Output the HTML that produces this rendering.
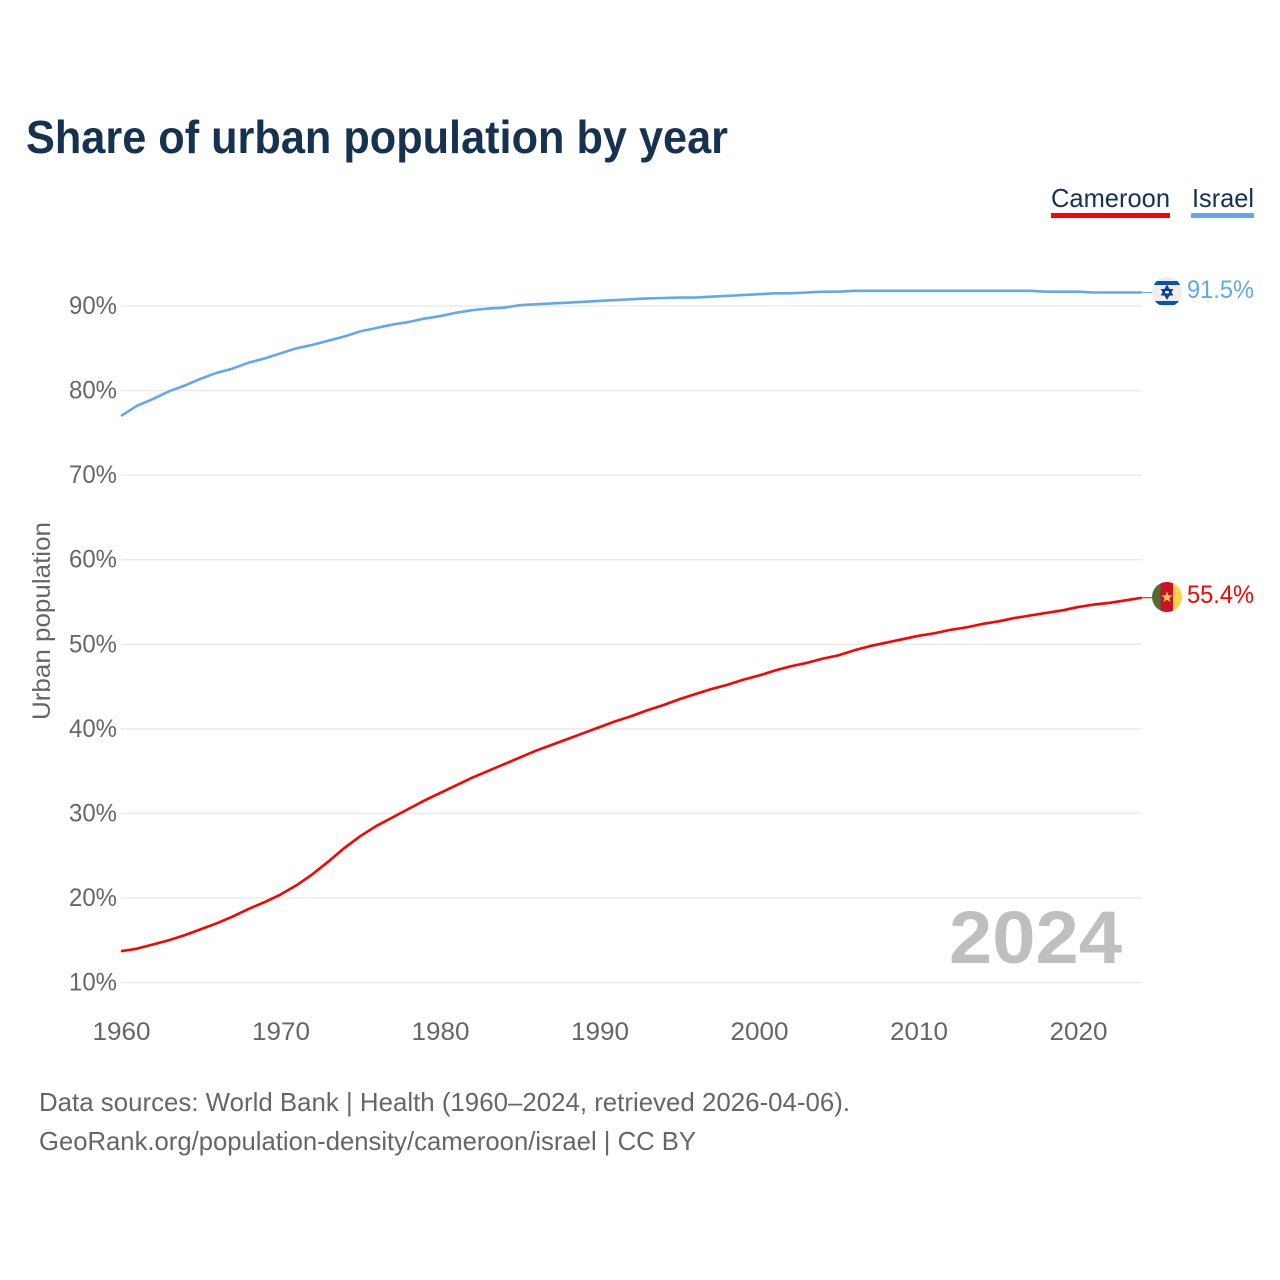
<!DOCTYPE html>
<html lang="en">
<head>
<meta charset="utf-8">
<title>Share of urban population by year</title>
<style>
html,body{margin:0;padding:0;background:#fff;width:1280px;height:1280px;overflow:hidden}
svg{display:block}
text{font-family:"Liberation Sans",sans-serif}
</style>
</head>
<body>
<svg id="chart" width="1280" height="1280" viewBox="0 0 1280 1280">
  <text x="26" y="153" font-size="46" font-weight="700" fill="#17324f" textLength="702" lengthAdjust="spacingAndGlyphs">Share of urban population by year</text>

  <g>
    <text x="1051" y="207" font-size="26" fill="#17324f" textLength="119" lengthAdjust="spacingAndGlyphs">Cameroon</text>
    <rect x="1051" y="213" width="119" height="5" fill="#ff0000"/>
  </g>
  <g>
    <text x="1192" y="207" font-size="26" fill="#17324f" textLength="62" lengthAdjust="spacingAndGlyphs">Israel</text>
    <rect x="1191" y="213" width="63" height="5" fill="#61a8ee"/>
  </g>

  <g id="grid"></g>
  <g id="yticks"></g>
  <g id="xticks"></g>

  <text transform="translate(50,621) rotate(-90)" text-anchor="middle" font-size="25" fill="#666666" textLength="198" lengthAdjust="spacingAndGlyphs">Urban population</text>

  <text x="1122" y="963" text-anchor="end" font-size="74" font-weight="700" fill="#bfbfbf" textLength="173" lengthAdjust="spacingAndGlyphs">2024</text>

  <g id="series"></g>

  <g>
    <clipPath id="clip-il"><circle cx="1167" cy="292" r="15"/></clipPath>
    <g clip-path="url(#clip-il)">
      <rect x="1152" y="277" width="30" height="30" fill="#eeeeee"/>
      <rect x="1153" y="281" width="28" height="4" fill="#0a50b4"/>
      <rect x="1153" y="301" width="28" height="4" fill="#0a50b4"/>
      <path d="M1167 286.500l4.600 8h-9.200zM1167 298l-4.600-8h9.200z" fill="none" stroke="#0a3f96" stroke-width="2"/>
    </g>
  </g>
  <g>
    <clipPath id="clip-cm"><circle cx="1167" cy="597" r="15"/></clipPath>
    <g clip-path="url(#clip-cm)">
      <rect x="1152" y="582" width="9" height="30" fill="#4f6f2f"/>
      <rect x="1160.500" y="582" width="13" height="30" fill="#ce1126"/>
      <rect x="1173" y="582" width="9" height="30" fill="#ffd147"/>
      <path d="M1167 591.500l1.500 4h4.200l-3.400 2.500 1.300 4.100-3.600-2.500-3.600 2.500 1.300-4.100-3.400-2.500h4.200z" fill="#ffd147"/>
    </g>
  </g>

  <text x="1187" y="298" font-size="25" fill="#61a8ee" textLength="67" lengthAdjust="spacingAndGlyphs">91.5%</text>
  <text x="1187" y="603" font-size="25" fill="#ff0000" textLength="67" lengthAdjust="spacingAndGlyphs">55.4%</text>

  <text x="39" y="1111" font-size="26" fill="#666666" textLength="811" lengthAdjust="spacingAndGlyphs">Data sources: World Bank | Health (1960–2024, retrieved 2026-04-06).</text>
  <text x="39" y="1150" font-size="26" fill="#666666" textLength="657" lengthAdjust="spacingAndGlyphs">GeoRank.org/population-density/cameroon/israel | CC BY</text>
</svg>
<script>
const startYear = 1960;
const yTickValues = [10, 20, 30, 40, 50, 60, 70, 80, 90];
const xTickValues = [1960, 1970, 1980, 1990, 2000, 2010, 2020];
const israelValues = [77.0,78.2,79.0,79.9,80.6,81.4,82.1,82.6,83.3,83.8,84.4,85.0,85.4,85.9,86.4,87.0,87.4,87.8,88.1,88.5,88.8,89.2,89.5,89.7,89.8,90.1,90.2,90.3,90.4,90.5,90.6,90.7,90.8,90.9,90.95,91.0,91.0,91.1,91.2,91.3,91.4,91.5,91.5,91.6,91.7,91.7,91.8,91.8,91.8,91.8,91.8,91.8,91.8,91.8,91.8,91.8,91.8,91.8,91.7,91.7,91.7,91.6,91.6,91.6,91.6];
const cameroonValues = [13.7,14.0,14.5,15.0,15.6,16.3,17.0,17.8,18.7,19.5,20.4,21.5,22.8,24.3,25.9,27.3,28.5,29.5,30.5,31.5,32.4,33.3,34.2,35.0,35.8,36.6,37.4,38.1,38.8,39.5,40.2,40.9,41.5,42.2,42.8,43.5,44.1,44.7,45.2,45.8,46.3,46.9,47.4,47.8,48.3,48.7,49.3,49.8,50.2,50.6,51.0,51.3,51.7,52.0,52.4,52.7,53.1,53.4,53.7,54.0,54.4,54.7,54.9,55.2,55.5];

const NS = 'http://www.w3.org/2000/svg';
function xScale(year) { return 121 + (year - 1960) * 15.95; }
function yScale(pct) { return 982.5 - (pct - 10) * 8.456; }

const gridGroup = document.getElementById('grid');
const yTickGroup = document.getElementById('yticks');
const xTickGroup = document.getElementById('xticks');
const seriesGroup = document.getElementById('series');

yTickValues.forEach(function (v) {
  const line = document.createElementNS(NS, 'line');
  
  
  line.setAttribute('x1', 121);
  line.setAttribute('x2', 1142);
  line.setAttribute('y1', yScale(v));
  line.setAttribute('y2', yScale(v));
  line.setAttribute('stroke', '#ebebeb');
  line.setAttribute('stroke-width', '1.5');
  gridGroup.appendChild(line);

  const label = document.createElementNS(NS, 'text');
  
  
  label.setAttribute('x', 69);
  label.setAttribute('y', yScale(v) + 8);
  label.setAttribute('font-size', '25');
  label.setAttribute('fill', '#666666');
  label.setAttribute('textLength', '48');
  label.setAttribute('lengthAdjust', 'spacingAndGlyphs');
  label.textContent = v + '%';
  yTickGroup.appendChild(label);
});

xTickValues.forEach(function (v) {
  const label = document.createElementNS(NS, 'text');
  
  
  label.setAttribute('x', xScale(v) + 0.5);
  label.setAttribute('y', 1040);
  label.setAttribute('text-anchor', 'middle');
  label.setAttribute('font-size', '25');
  label.setAttribute('fill', '#666666');
  label.setAttribute('textLength', '58');
  label.setAttribute('lengthAdjust', 'spacingAndGlyphs');
  label.textContent = v;
  xTickGroup.appendChild(label);
});

function drawSeries(values, color, name) {
  const d = values.map(function (v, i) {
    return (i ? 'L' : 'M') + xScale(startYear + i).toFixed(2) + ' ' + yScale(v).toFixed(2);
  }).join('');
  const path = document.createElementNS(NS, 'path');
  
  
  path.setAttribute('d', d);
  path.setAttribute('fill', 'none');
  path.setAttribute('stroke', color);
  path.setAttribute('stroke-width', '2.6');
  path.setAttribute('stroke-linejoin', 'round');
  seriesGroup.appendChild(path);

  const lastY = yScale(values[values.length - 1]);
  const lead = document.createElementNS(NS, 'line');
  
  
  lead.setAttribute('x1', xScale(startYear + values.length - 1));
  lead.setAttribute('x2', 1152);
  lead.setAttribute('y1', lastY);
  lead.setAttribute('y2', lastY);
  lead.setAttribute('stroke', color);
  lead.setAttribute('stroke-width', '1');
  seriesGroup.appendChild(lead);
}
drawSeries(israelValues, '#61a8ee', 'israel');
drawSeries(cameroonValues, '#ff0000', 'cameroon');
</script>
</body>
</html>
